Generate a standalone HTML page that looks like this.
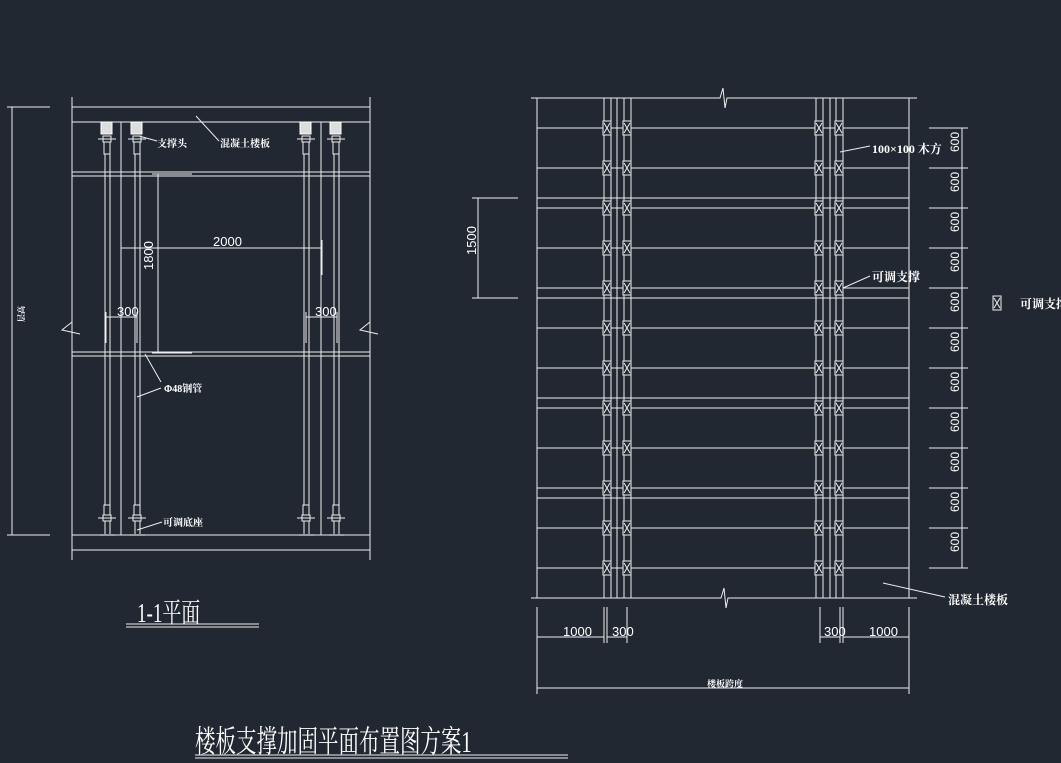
<!DOCTYPE html>
<html><head><meta charset="utf-8"><style>
html,body{margin:0;padding:0;background:#212831;}
svg{display:block}
text{fill:#fff;font-family:"Liberation Sans","Noto Sans CJK SC",sans-serif;}
.c{font-family:"Liberation Serif","Noto Serif CJK SC",serif;font-weight:bold;}
</style></head><body>
<svg width="1061" height="763" viewBox="0 0 1061 763" xmlns="http://www.w3.org/2000/svg">
<defs>
<g id="post" stroke="#eee" stroke-width="1" fill="none">
  <rect x="-6" y="122" width="11" height="12" fill="#ddd" stroke="#fff"/>
  <line x1="-9" y1="139" x2="9" y2="139"/>
  <rect x="-4" y="136" width="8" height="6"/>
  <rect x="-3" y="142" width="6" height="12"/>
  <line x1="-2" y1="154" x2="-2" y2="505"/><line x1="3" y1="154" x2="3" y2="505"/>
  <rect x="-3" y="505" width="6" height="10"/>
  <line x1="-9" y1="518" x2="9" y2="518"/>
  <rect x="-4" y="515" width="8" height="6"/>
  <line x1="-2" y1="521" x2="-2" y2="535"/><line x1="3" y1="521" x2="3" y2="535"/>
  <line x1="-7" y1="535" x2="8" y2="535" stroke="#999" stroke-width="2"/>
</g>
<g id="xb" stroke="#eee" stroke-width="1" fill="#212831">
  <rect x="0" y="-7" width="8" height="14"/>
  <path d="M1 -5 L7 5 M7 -5 L1 5" fill="none"/>
</g>
<g id="row">
  <use href="#xb" x="603"/><use href="#xb" x="623"/><use href="#xb" x="815"/><use href="#xb" x="835"/>
</g>
</defs>
<g stroke="#eee" stroke-width="1" fill="none">
<line x1="72" y1="97" x2="72" y2="560"/><line x1="370" y1="97" x2="370" y2="560"/>
<line x1="72" y1="107" x2="370" y2="107"/><line x1="72" y1="122" x2="370" y2="122"/>
<line x1="72" y1="172" x2="370" y2="172"/><line x1="72" y1="176" x2="370" y2="176"/>
<line x1="72" y1="352" x2="370" y2="352"/><line x1="72" y1="356" x2="370" y2="356"/>
<line x1="72" y1="535" x2="370" y2="535"/><line x1="72" y1="550" x2="370" y2="550"/>
<line x1="121" y1="122" x2="121" y2="535"/><line x1="321" y1="122" x2="321" y2="535"/>
<path d="M72 322 L62 330 L80 334" /><path d="M370 322 L360 330 L378 334"/>
<line x1="12" y1="107" x2="12" y2="535"/><line x1="7" y1="107" x2="50" y2="107"/><line x1="7" y1="535" x2="50" y2="535"/>
<line x1="121" y1="248" x2="322" y2="248"/><line x1="121" y1="240" x2="121" y2="275"/><line x1="322" y1="240" x2="322" y2="275"/>
<line x1="158" y1="174" x2="158" y2="353"/><line x1="152" y1="174" x2="192" y2="174"/><line x1="152" y1="353" x2="192" y2="353"/>
<line x1="106" y1="317" x2="137" y2="317"/><line x1="106" y1="312" x2="106" y2="343"/><line x1="137" y1="312" x2="137" y2="343"/>
<line x1="306" y1="317" x2="337" y2="317"/><line x1="306" y1="312" x2="306" y2="343"/><line x1="337" y1="312" x2="337" y2="343"/>
<line x1="139" y1="136" x2="157" y2="141"/><line x1="196" y1="116" x2="219" y2="141"/>
<line x1="145" y1="354" x2="161" y2="382"/><line x1="137" y1="397" x2="161" y2="388"/>
<line x1="137" y1="530" x2="162" y2="522"/>
<line x1="126" y1="624" x2="259" y2="624"/><line x1="126" y1="627" x2="259" y2="627"/>
<line x1="195" y1="755" x2="568" y2="755"/><line x1="195" y1="758" x2="568" y2="758"/>

<line x1="537" y1="98" x2="537" y2="598"/><line x1="909" y1="98" x2="909" y2="598"/>
<path d="M531 98 H720 L723 88 L725 108 L727 98 H917"/>
<path d="M531 598 H721 L724 588 L726 608 L728 598 H917"/>
<line x1="604" y1="98" x2="604" y2="598"/><line x1="611" y1="98" x2="611" y2="598"/><line x1="617" y1="98" x2="617" y2="598"/><line x1="624" y1="98" x2="624" y2="598"/><line x1="631" y1="98" x2="631" y2="598"/>
<line x1="816" y1="98" x2="816" y2="598"/><line x1="823" y1="98" x2="823" y2="598"/><line x1="830" y1="98" x2="830" y2="598"/><line x1="836" y1="98" x2="836" y2="598"/><line x1="843" y1="98" x2="843" y2="598"/>
<path d="M537 128H909M537 168H909M537 208H909M537 248H909M537 288H909M537 328H909M537 368H909M537 408H909M537 448H909M537 488H909M537 528H909M537 568H909M537 198H909M537 298H909M537 398H909M537 498H909"/>
<line x1="962" y1="128" x2="962" y2="568"/>
<path d="M929 128H968M929 168H968M929 208H968M929 248H968M929 288H968M929 328H968M929 368H968M929 408H968M929 448H968M929 488H968M929 528H968M929 568H968"/>
<line x1="478" y1="198" x2="478" y2="298"/><line x1="472" y1="198" x2="518" y2="198"/><line x1="472" y1="298" x2="518" y2="298"/>
<line x1="537" y1="607" x2="537" y2="694"/><line x1="909" y1="607" x2="909" y2="694"/>
<line x1="604" y1="607" x2="604" y2="643"/><line x1="607" y1="607" x2="607" y2="643"/><line x1="627" y1="607" x2="627" y2="643"/>
<line x1="820" y1="607" x2="820" y2="643"/><line x1="840" y1="607" x2="840" y2="643"/><line x1="843" y1="607" x2="843" y2="643"/>
<line x1="537" y1="637" x2="604" y2="637"/><line x1="607" y1="637" x2="627" y2="637"/>
<line x1="820" y1="637" x2="840" y2="637"/><line x1="843" y1="637" x2="909" y2="637"/>
<line x1="537" y1="688" x2="909" y2="688"/>
<line x1="840" y1="152" x2="870" y2="146"/><line x1="843" y1="288" x2="870" y2="276"/>
<line x1="883" y1="583" x2="945" y2="597"/>
<rect x="993" y="296" width="8" height="14"/><path d="M994 298 L1000 308 M1000 298 L994 308"/>
</g>
<use href="#post" x="107"/><use href="#post" x="137"/><use href="#post" x="306"/><use href="#post" x="336"/>
<use href="#row" y="128"/><use href="#row" y="168"/><use href="#row" y="208"/><use href="#row" y="248"/>
<use href="#row" y="288"/><use href="#row" y="328"/><use href="#row" y="368"/><use href="#row" y="408"/>
<use href="#row" y="448"/><use href="#row" y="488"/><use href="#row" y="528"/><use href="#row" y="568"/>

<g font-size="13">
<text x="213" y="246">2000</text>
<text x="117" y="316">300</text>
<text x="315" y="316">300</text>
<text transform="translate(153,270) rotate(-90)">1800</text>
<text transform="translate(476,255) rotate(-90)">1500</text>
<text x="563" y="636">1000</text>
<text x="612" y="636">300</text>
<text x="824" y="636">300</text>
<text x="869" y="636">1000</text>
</g>
<g font-size="12">
<text transform="translate(959,152) rotate(-90)">600</text><text transform="translate(959,192) rotate(-90)">600</text>
<text transform="translate(959,232) rotate(-90)">600</text><text transform="translate(959,272) rotate(-90)">600</text>
<text transform="translate(959,312) rotate(-90)">600</text><text transform="translate(959,352) rotate(-90)">600</text>
<text transform="translate(959,392) rotate(-90)">600</text><text transform="translate(959,432) rotate(-90)">600</text>
<text transform="translate(959,472) rotate(-90)">600</text><text transform="translate(959,512) rotate(-90)">600</text>
<text transform="translate(959,552) rotate(-90)">600</text>
</g>
<g font-size="10">
<text class="c" x="157" y="147">支撑头</text>
<text class="c" x="220" y="147">混凝土楼板</text>
<text class="c" x="164" y="392">Φ48钢管</text>
<text class="c" x="163" y="526">可调底座</text>
<text class="c" font-size="8" transform="translate(24,322) rotate(-90)">层高</text>
<text class="c" x="707" y="687" font-size="9">楼板跨度</text>
</g>
<g font-size="12">
<text class="c" x="872" y="153">100×100 木方</text>
<text class="c" x="872" y="281">可调支撑</text>
<text class="c" x="948" y="604">混凝土楼板</text>
<text class="c" x="1020" y="308">可调支撑</text>
</g>
<text transform="translate(137,622) scale(1,1.45)" font-size="19" style="font-family:'Liberation Serif','Noto Serif CJK SC',serif;font-weight:normal">1-1平面</text>
<text transform="translate(195,752) scale(1,1.5)" font-size="20.5" style="font-family:'Liberation Serif','Noto Serif CJK SC',serif;font-weight:normal">楼板支撑加固平面布置图方案1</text>
</svg>
</body></html>
